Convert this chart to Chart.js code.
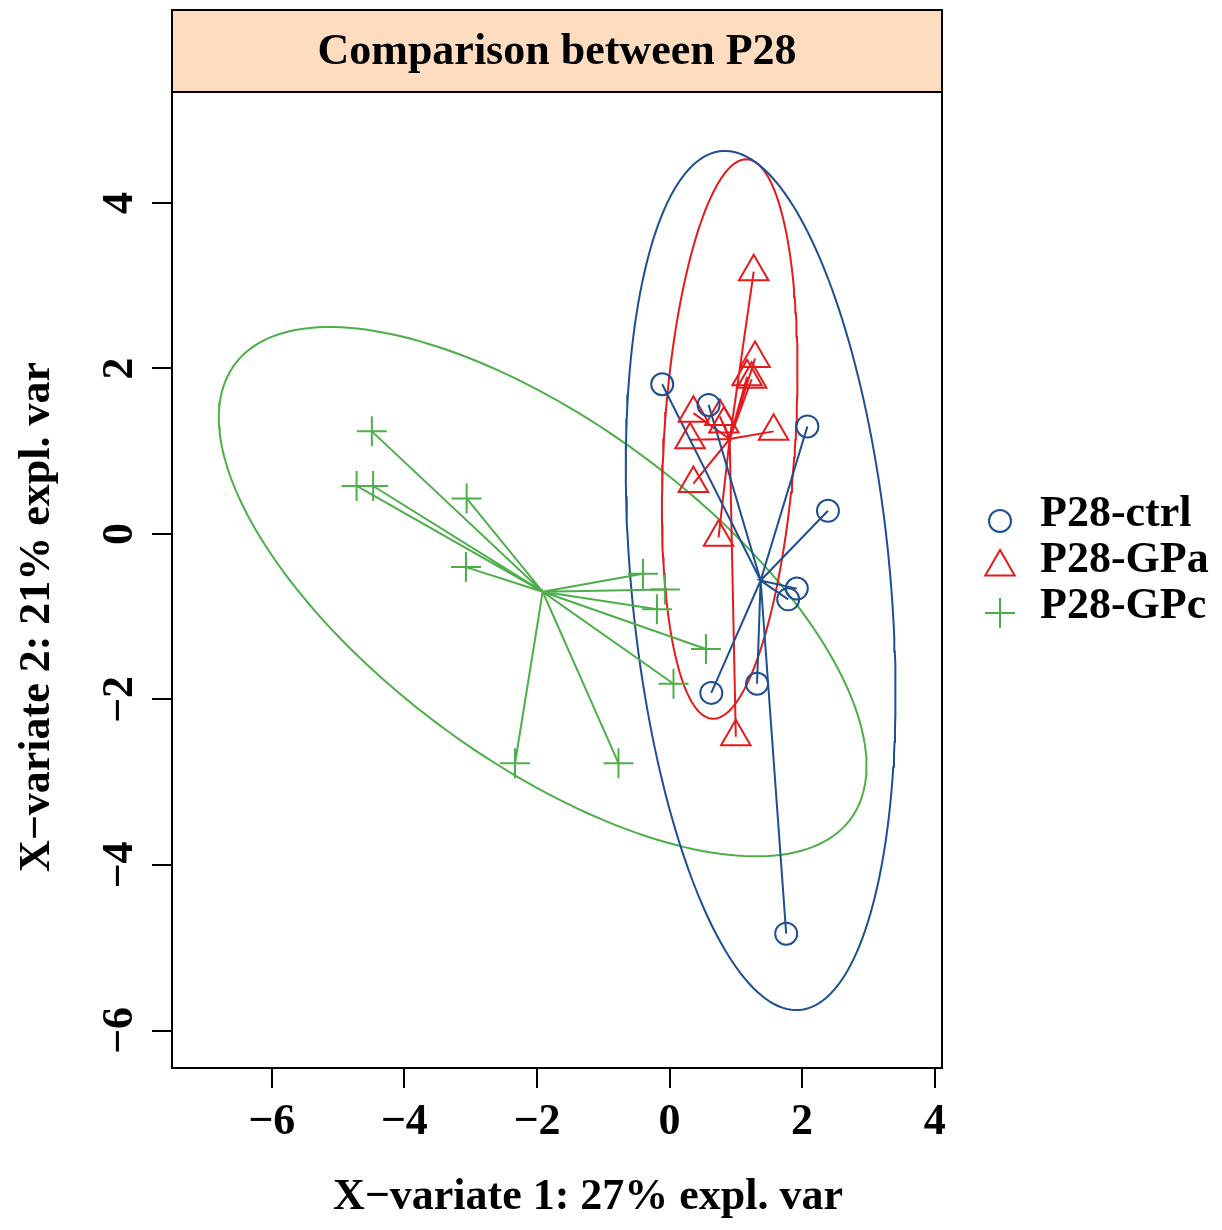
<!DOCTYPE html>
<html><head><meta charset="utf-8">
<script src="https://cdn.jsdelivr.net/npm/chart.js@4.4.1/dist/chart.umd.min.js"></script>
<style>html,body{margin:0;padding:0;background:#fff;}canvas{display:block;}</style>
</head><body>
<canvas id="c" width="1222" height="1230"></canvas>
<script>
// ---- data ----
const groupNames = ['P28-ctrl', 'P28-GPa', 'P28-GPc'];
const ctrlX = [-0.11, 0.59, 2.08, 2.39, 1.92, 1.79, 0.63, 1.32, 1.76];
const ctrlY = [ 1.81, 1.56, 1.30, 0.28, -0.66, -0.79, -1.92, -1.81, -4.83];
const gpaX  = [1.27, 1.29, 1.17, 1.24, 0.36, 0.76, 0.82, 0.31, 1.57, 0.36, 0.74, 1.00];
const gpaY  = [3.17, 2.12, 1.90, 1.87, 1.46, 1.42, 1.33, 1.14, 1.24, 0.61, -0.04, -2.45];
const gpcX  = [-4.49, -4.72, -4.47, -3.06, -3.07, -2.33, -0.77, -0.40, -0.07, -0.19, 0.55, 0.06];
const gpcY  = [ 1.24,  0.58,  0.58,  0.43, -0.40, -2.77, -2.77, -0.48, -0.67, -0.91, -1.39, -1.81];
const xTicks = [-6, -4, -2, 0, 2, 4];
const yTicks = [-6, -4, -2, 0, 2, 4];
const chartTitle = 'Comparison between P28';
const xTitle = 'X\u2212variate 1: 27% expl. var';
const yTitle = 'X\u2212variate 2: 21% expl. var';

// ---- styles ----
const colors = ['#1d4f91', '#e41a1c', '#4daf4a'];
const styles = ['circle', 'triangle', 'cross'];
const radii = [11, 17, 15];
const FONT = '"Liberation Serif", "Times New Roman", serif';

function mean(a){ return a.reduce((s,v)=>s+v,0)/a.length; }
function centroid(xs, ys){ return {x: mean(xs), y: mean(ys)}; }
function star(xs, ys){
  const c = centroid(xs, ys); const out = [];
  xs.forEach((x,i)=>{ out.push({x:c.x,y:c.y}); out.push({x:x,y:ys[i]}); });
  return out;
}
// 95% confidence ellipse from the sample covariance (as in ellipse::ellipse)
function confEllipse(xs, ys, level){
  const n = xs.length, mx = mean(xs), my = mean(ys);
  let vx=0, vy=0, cxy=0;
  for (let i=0;i<n;i++){ const dx=xs[i]-mx, dy=ys[i]-my; vx+=dx*dx; vy+=dy*dy; cxy+=dx*dy; }
  vx/=(n-1); vy/=(n-1); cxy/=(n-1);
  const sx=Math.sqrt(vx), sy=Math.sqrt(vy), r=cxy/(sx*sy);
  const t = Math.sqrt(-2*Math.log(1-level));
  const d = Math.acos(r);
  const pts=[];
  const N = 200;
  for (let k=0;k<=N;k++){
    const a = 2*Math.PI*k/N;
    pts.push({x: mx + t*sx*Math.cos(a + d/2), y: my + t*sy*Math.cos(a - d/2)});
  }
  return pts;
}
function pts(xs, ys){ return xs.map((x,i)=>({x:x, y:ys[i]})); }

const groupsXY = [[ctrlX, ctrlY], [gpaX, gpaY], [gpcX, gpcY]];
const datasets = [];
groupsXY.forEach((g, i) => {
  datasets.push({
    label: groupNames[i], data: pts(g[0], g[1]), showLine: false,
    pointStyle: styles[i], pointRadius: radii[i], pointBorderWidth: 2,
    pointBorderColor: colors[i], pointBackgroundColor: 'rgba(0,0,0,0)',
    borderColor: colors[i], order: 0
  });
  datasets.push({
    label: groupNames[i] + ' star', data: star(g[0], g[1]), type: 'line', showLine: true,
    pointRadius: 0, borderColor: colors[i], borderWidth: 2, fill: false, tension: 0, order: 1
  });
  datasets.push({
    label: groupNames[i] + ' ellipse', data: confEllipse(g[0], g[1], 0.95), type: 'line', showLine: true,
    pointRadius: 0, borderColor: colors[i], borderWidth: 2, fill: false, tension: 0, order: 2
  });
});

const framePlugin = {
  id: 'frame',
  afterDraw(chart){
    const {ctx, chartArea: a} = chart;
    ctx.save();
    // strip
    ctx.fillStyle = '#fddcc0';
    ctx.fillRect(a.left, 10, a.right - a.left, a.top - 10);
    ctx.strokeStyle = '#000'; ctx.lineWidth = 2;
    ctx.strokeRect(a.left, 10, a.right - a.left, a.bottom - 10);
    ctx.beginPath(); ctx.moveTo(a.left, a.top); ctx.lineTo(a.right, a.top); ctx.stroke();
    ctx.fillStyle = '#000';
    ctx.font = 'bold 44px ' + FONT;
    ctx.textAlign = 'center'; ctx.textBaseline = 'middle';
    ctx.fillText(chartTitle, (a.left + a.right)/2, (10 + a.top)/2 + 2);
    // axis titles
    ctx.fillText(xTitle, a.left + 416, a.bottom + 130);
    ctx.save();
    ctx.translate(38, a.top + 525);
    ctx.rotate(-Math.PI/2);
    ctx.fillText(yTitle, 0, 0);
    ctx.restore();
    // legend
    const lx = a.right + 58, ly0 = 521, dy = 46;
    groupNames.forEach((name, i) => {
      const y = ly0 + i*dy;
      ctx.strokeStyle = colors[i]; ctx.fillStyle = 'rgba(0,0,0,0)';
      Chart.helpers.drawPoint(ctx, {pointStyle: styles[i], radius: radii[i], rotation: 0, borderWidth: 2}, lx, y);
      ctx.fillStyle = '#000'; ctx.textAlign = 'left'; ctx.textBaseline = 'middle';
      ctx.fillText(name, a.right + 98, y - 6);
    });
    ctx.restore();
  }
};

const tickFont = {family: FONT, size: 44, weight: 'bold'};
new Chart(document.getElementById('c'), {
  type: 'scatter',
  data: {datasets},
  options: {
    responsive: false, animation: false, devicePixelRatio: 1, events: [],
    layout: {padding: {top: 92, right: 280, left: 0, bottom: 0}},
    plugins: {legend: {display: false}, tooltip: {enabled: false}, title: {display: false}},
    scales: {
      x: {
        type: 'linear', min: -7.504, max: 4.110,
        afterBuildTicks: s => { s.ticks = xTicks.map(v => ({value: v})); },
        afterFit: s => { s.height = 162; },
        ticks: {font: tickFont, color: '#000', padding: 8, maxRotation: 0, minRotation: 0,
          callback: v => String(v).replace('-', '\u2212')},
        grid: {display: true, drawOnChartArea: false, drawTicks: true, tickLength: 20, color: '#000', lineWidth: 2},
        border: {display: false}
      },
      y: {
        type: 'linear', min: -6.453, max: 5.341,
        afterBuildTicks: s => { s.ticks = yTicks.map(v => ({value: v})); },
        afterFit: s => { s.width = 172; },
        ticks: {font: tickFont, color: '#000', padding: 8, minRotation: 90, maxRotation: 90, crossAlign: 'center',
          callback: v => String(v).replace('-', '\u2212')},
        grid: {display: true, drawOnChartArea: false, drawTicks: true, tickLength: 20, color: '#000', lineWidth: 2},
        border: {display: false}
      }
    }
  },
  plugins: [framePlugin]
});
</script>
</body></html>
